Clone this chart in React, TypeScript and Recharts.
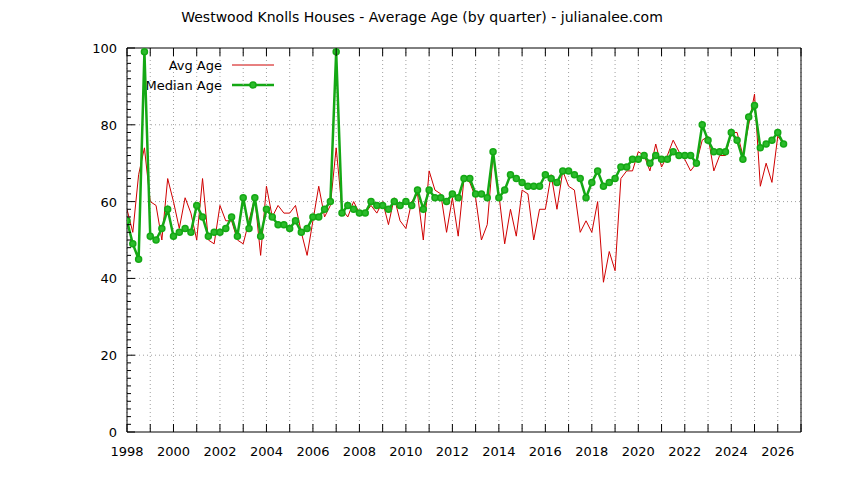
import React from 'react';
import { LineChart, Line, XAxis, YAxis, CartesianGrid, ReferenceLine } from 'recharts';

// quarterly values, first point is Q1 1998
const startYear = 1998;

const avgAge = [
  58, 52, 67, 74,
  60, 59, 50, 66,
  60, 53, 61, 57,
  50, 66, 50, 49,
  59, 55, 55, 50,
  49, 55, 61, 46,
  64, 56, 59, 57,
  57, 59, 52, 46,
  55, 64, 56, 59,
  74, 58, 56, 60,
  57, 57, 59, 57,
  60, 54, 61, 55,
  53, 60, 62, 50,
  68, 63, 62, 52,
  61, 51, 66, 65,
  61, 50, 54, 72,
  62, 49, 58, 51,
  63, 62, 50, 58,
  58, 67, 58, 68,
  64, 63, 52, 55,
  52, 60, 39, 47,
  42, 66, 68, 68,
  73, 72, 68, 75,
  69, 72, 76, 73,
  71, 68, 70, 76,
  77, 68, 72, 72,
  78, 78, 72, 80,
  88, 64, 70, 65,
  77, 75,
];

const medianAge = [
  55, 49, 45, 99,
  51, 50, 53, 58,
  51, 52, 53, 52,
  59, 56, 51, 52,
  52, 53, 56, 51,
  61, 53, 61, 51,
  58, 56, 54, 54,
  53, 55, 52, 53,
  56, 56, 58, 60,
  99, 57, 59, 58,
  57, 57, 60, 59,
  59, 58, 60, 59,
  60, 59, 63, 58,
  63, 61, 61, 60,
  62, 61, 66, 66,
  62, 62, 61, 73,
  61, 63, 67, 66,
  65, 64, 64, 64,
  67, 66, 65, 68,
  68, 67, 66, 61,
  65, 68, 64, 65,
  66, 69, 69, 71,
  71, 72, 70, 72,
  71, 71, 73, 72,
  72, 72, 70, 80,
  76, 73, 73, 73,
  78, 76, 71, 82,
  85, 74, 75, 76,
  78, 75,
];

const yearTicks = [
  1998, 1999, 2000, 2001, 2002, 2003, 2004, 2005, 2006, 2007,
  2008, 2009, 2010, 2011, 2012, 2013, 2014, 2015, 2016, 2017,
  2018, 2019, 2020, 2021, 2022, 2023, 2024, 2025, 2026, 2027,
];
const yGridLines = [20, 40, 60, 80];
const yMinorTicks = Array.from({ length: 51 }, (_, i) => i * 2);

const data = avgAge.map((v, i) => ({
  t: startYear + i / 4,
  avg: v,
  median: medianAge[i],
}));

const FONT = '"DejaVu Sans", Verdana, sans-serif';
const RED = '#d00000';
const GREEN = '#14a814';
const GRID = '#a0a0a0';
// recharts puts custom ticks tickSize + tickMargin away from the axis line
const TS = 5;
const TM = 1;
const GAP = TS + TM;

const BottomTick = ({ x, y, payload }: any) => {
  const ay = y - GAP;
  return (
    <g>
      <line x1={x} y1={ay} x2={x} y2={ay - 8} stroke="#000" />
      {payload.value % 2 === 0 && payload.value <= 2026 && (
        <text x={x} y={ay + 24} textAnchor="middle" fontSize={13} fontFamily={FONT} fill="#000">
          {payload.value}
        </text>
      )}
    </g>
  );
};

const TopTick = ({ x, y }: any) => {
  const ay = y + GAP;
  return <line x1={x} y1={ay} x2={x} y2={ay + 8} stroke="#000" />;
};

const LeftTick = ({ x, y, payload }: any) => {
  const ax = x + GAP;
  const major = payload.value % 20 === 0;
  return (
    <g>
      <line x1={ax} y1={y} x2={ax + (major ? 8 : 4)} y2={y} stroke="#000" />
      {major && (
        <text x={ax - 10} y={y + 5} textAnchor="end" fontSize={13} fontFamily={FONT} fill="#000">
          {payload.value}
        </text>
      )}
    </g>
  );
};

const RightTick = ({ x, y, payload }: any) => {
  const ax = x - GAP;
  const major = payload.value % 20 === 0;
  return <line x1={ax} y1={y} x2={ax - (major ? 8 : 4)} y2={y} stroke="#000" />;
};

// key sits under the plot, the way the green spike crosses it in the original
const KeyBox = () => (
  <svg width={160} height={50} style={{ position: 'absolute', left: 125, top: 45 }}>
    <g fontFamily={FONT} fontSize={13} fill="#000">
      <text x={97} y={25} textAnchor="end">Avg Age</text>
      <text x={97} y={45} textAnchor="end">Median Age</text>
    </g>
    <line x1={107} y1={20} x2={149} y2={20} stroke={RED} strokeWidth={1} />
    <line x1={107} y1={40} x2={149} y2={40} stroke={GREEN} strokeWidth={2.5} />
    <circle cx={128} cy={40} r={3} fill="#2bbb2b" stroke={GREEN} strokeWidth={1.5} />
  </svg>
);

export default function App() {
  return (
    <div style={{ position: 'absolute', left: 0, top: 0, width: 844, height: 480, background: '#fff' }}>
      <div
        style={{
          position: 'absolute',
          top: 9,
          width: 844,
          textAlign: 'center',
          fontFamily: FONT,
          fontSize: 14,
          color: '#000',
        }}
      >
        Westwood Knolls Houses - Average Age (by quarter) - julianalee.com
      </div>
      <KeyBox />
      <div style={{ position: 'absolute', left: 0, top: 0 }}>
        <LineChart
          width={844}
          height={480}
          data={data}
          margin={{ top: 38, right: 33, bottom: 18, left: 77 }}
        >
          <CartesianGrid
            stroke={GRID}
            strokeDasharray="1 3"
            horizontal={false}
            xAxisId="bottom"
            yAxisId="left"
          />
          {yGridLines.map((v) => (
            <ReferenceLine
              key={v}
              y={v}
              xAxisId="bottom"
              yAxisId="left"
              stroke={GRID}
              strokeDasharray="1 3"
            />
          ))}
          <XAxis
            xAxisId="bottom"
            dataKey="t"
            type="number"
            domain={[1998, 2027]}
            ticks={yearTicks}
            interval={0}
            height={30}
            tickSize={TS}
            tickMargin={TM}
            tickLine={false}
            tick={<BottomTick />}
            axisLine={{ stroke: '#000' }}
            allowDataOverflow
          />
          <XAxis
            xAxisId="top"
            orientation="top"
            dataKey="t"
            type="number"
            domain={[1998, 2027]}
            ticks={yearTicks}
            interval={0}
            height={10}
            tickSize={TS}
            tickMargin={TM}
            tickLine={false}
            tick={<TopTick />}
            axisLine={{ stroke: '#000' }}
            allowDataOverflow
          />
          <YAxis
            yAxisId="left"
            domain={[0, 100]}
            ticks={yMinorTicks}
            interval={0}
            width={50}
            tickSize={TS}
            tickMargin={TM}
            tickLine={false}
            tick={<LeftTick />}
            axisLine={{ stroke: '#000' }}
          />
          <YAxis
            yAxisId="right"
            orientation="right"
            domain={[0, 100]}
            ticks={yMinorTicks}
            interval={0}
            width={10}
            tickSize={TS}
            tickMargin={TM}
            tickLine={false}
            tick={<RightTick />}
            axisLine={{ stroke: '#000' }}
          />
          <Line
            xAxisId="bottom"
            yAxisId="left"
            dataKey="avg"
            name="Avg Age"
            stroke={RED}
            strokeWidth={1}
            dot={false}
            isAnimationActive={false}
          />
          <Line
            xAxisId="bottom"
            yAxisId="left"
            dataKey="median"
            name="Median Age"
            stroke={GREEN}
            strokeWidth={2.5}
            dot={{ r: 3, fill: '#2bbb2b', stroke: GREEN, strokeWidth: 1.5 }}
            isAnimationActive={false}
          />
        </LineChart>
      </div>
    </div>
  );
}
